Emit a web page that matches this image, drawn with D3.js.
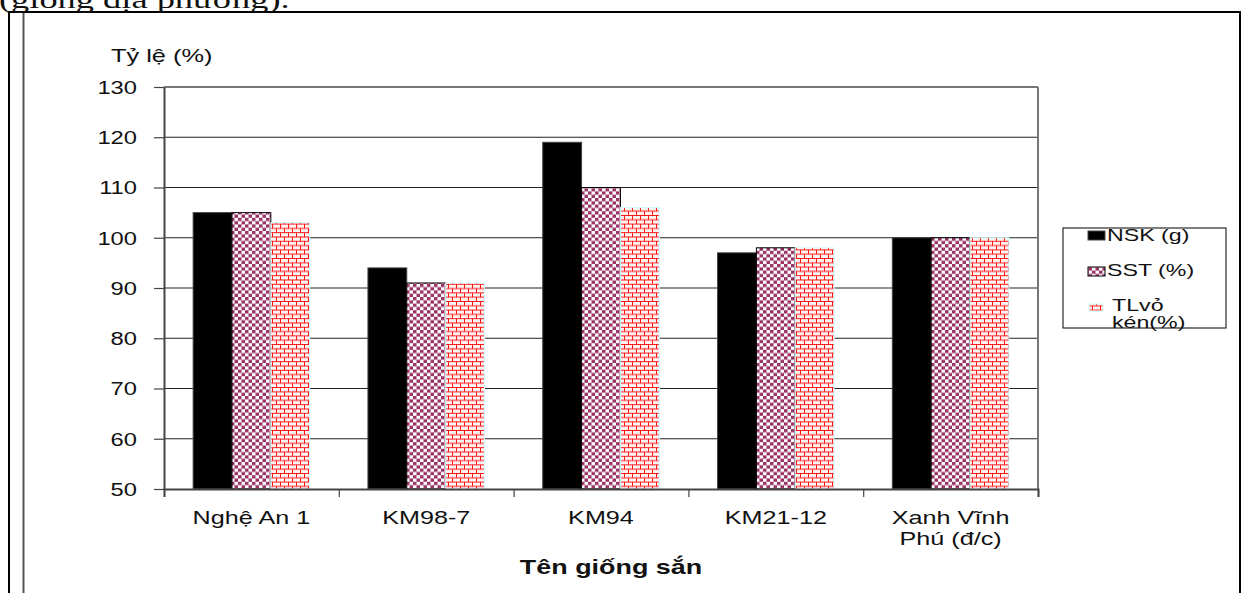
<!DOCTYPE html>
<html><head><meta charset="utf-8">
<script src="https://cdn.jsdelivr.net/npm/d3@7"></script>
<style>
body{margin:0;background:#fff}
svg{display:block}
text{font-family:"Liberation Sans",Arial,sans-serif;fill:#111}
</style>
</head><body>
<svg id="c" width="1244" height="593"></svg>
<script>
const categories = ["Nghệ An 1","KM98-7","KM94","KM21-12","Xanh Vĩnh Phú (đ/c)"];
const categoryLines = [["Nghệ An 1"],["KM98-7"],["KM94"],["KM21-12"],["Xanh Vĩnh","Phú (đ/c)"]];
const seriesNames = ["NSK (g)","SST (%)","TLvỏ kén(%)"];
const nsk = [105,94,119,97,100];
const sst = [105,91,110,98,100];
const tlv = [103,91,106,98,100];
const yTicks = [50,60,70,80,90,100,110,120,130];
const yTitle = "Tỷ lệ (%)";
const xTitle = "Tên giống sắn";
const headerText = "(giống địa phương).";

const seriesValues = [nsk, sst, tlv];
const svg = d3.select("#c");
const SX = 1.4;

// patterns
const defs = svg.append("defs");
const chk = defs.append("pattern").attr("id","chk").attr("patternUnits","userSpaceOnUse")
  .attr("width",7).attr("height",6.6);
chk.append("rect").attr("width",7).attr("height",6.6).attr("fill","#fff");
chk.append("rect").attr("width",3.5).attr("height",3.3).attr("fill","#993366");
chk.append("rect").attr("x",3.5).attr("y",3.3).attr("width",3.5).attr("height",3.3).attr("fill","#993366");
const brk = defs.append("pattern").attr("id","brk").attr("patternUnits","userSpaceOnUse")
  .attr("width",8).attr("height",8.6);
brk.append("rect").attr("width",8).attr("height",8.6).attr("fill","#fff4f4");
brk.append("path").attr("d","M0,0.5H8M0,4.8H8M0.5,0.5V4.8M4.5,4.8V8.6")
  .attr("stroke","#ff1010").attr("stroke-width",1).attr("fill","none");

const fills = ["#000","url(#chk)","url(#brk)"];
const strokes = ["#444","#000","#ccffff"];

// frame lines
svg.append("line").attr("x1",8).attr("x2",1241).attr("y1",12).attr("y2",12).attr("stroke","#000").attr("stroke-width",2);
svg.append("line").attr("x1",9).attr("x2",9).attr("y1",11).attr("y2",593).attr("stroke","#000").attr("stroke-width",2);
svg.append("line").attr("x1",1240).attr("x2",1240).attr("y1",11).attr("y2",593).attr("stroke","#000").attr("stroke-width",2);
svg.append("line").attr("x1",23.5).attr("x2",23.5).attr("y1",13).attr("y2",593).attr("stroke","#555").attr("stroke-width",2);

// header text (cut off)
svg.append("text").attr("transform",`translate(-1,8) scale(${SX},1)`)
  .style("font-family","'Liberation Serif','Times New Roman',serif").style("font-size","26px")
  .text(headerText);

const L=164, R=1038, T=87, B=489;
const x0 = d3.scaleBand().domain(categories).range([L,R]).padding(0);
const x1 = d3.scaleBand().domain(seriesNames).range([0,x0.bandwidth()]).paddingInner(0).paddingOuter(0.75);
const y = d3.scaleLinear().domain([50,130]).range([B,T]);

// gridlines
svg.append("g").selectAll("line").data(yTicks.filter(v=>v>50&&v<130)).join("line")
  .attr("x1",L).attr("x2",R).attr("y1",d=>y(d)).attr("y2",d=>y(d))
  .attr("stroke","#222").attr("stroke-width",1.2);

// bars
const g = svg.append("g");
categories.forEach((c,i)=>{
  seriesNames.forEach((s,j)=>{
    const v = seriesValues[j][i];
    g.append("rect").attr("x",x0(c)+x1(s)).attr("y",y(v))
      .attr("width",x1.bandwidth()).attr("height",y(50)-y(v))
      .attr("fill",fills[j]).attr("stroke",strokes[j]).attr("stroke-width",1);
  });
});

// plot border top/right
svg.append("line").attr("x1",L).attr("x2",R).attr("y1",T).attr("y2",T).attr("stroke","#777").attr("stroke-width",2);
svg.append("line").attr("x1",R).attr("x2",R).attr("y1",T).attr("y2",B).attr("stroke","#777").attr("stroke-width",2);

// y axis
const ya = svg.append("g").attr("transform",`translate(${L},0)`)
  .call(d3.axisLeft(y).tickValues(yTicks).tickSize(10).tickSizeOuter(0));
ya.select(".domain").attr("stroke","#444").attr("stroke-width",2);
ya.selectAll(".tick line").attr("stroke","#444").attr("stroke-width",1.2);
ya.selectAll(".tick text").attr("x",-27/1.32).attr("dy","0.35em")
  .attr("transform","scale(1.32,1)").style("font-size","18px").attr("fill","#111")
  .style("font-family","'Liberation Sans',Arial,sans-serif");

// x axis
const xa = svg.append("g").attr("transform",`translate(0,${B})`)
  .call(d3.axisBottom(d3.scaleLinear().domain([0,5]).range([L,R])).tickValues([0,1,2,3,4,5]).tickSize(8).tickFormat(""));
xa.select(".domain").attr("stroke","#444").attr("stroke-width",2);
xa.selectAll(".tick line").attr("stroke","#444").attr("stroke-width",1.2);

// category labels
categories.forEach((c,i)=>{
  const cx = x0(c)+x0.bandwidth()/2;
  categoryLines[i].forEach((ln,k)=>{
    svg.append("text").attr("transform",`translate(${cx},${524+k*21}) scale(${SX},1)`)
      .attr("text-anchor","middle").style("font-size","18px").text(ln);
  });
});

// titles
svg.append("text").attr("transform",`translate(111,62) scale(1.45,1)`).style("font-size","17.5px").text(yTitle);
svg.append("text").attr("transform",`translate(611,574) scale(1.38,1)`).attr("text-anchor","middle")
  .style("font-size","19.5px").style("font-weight","bold").text(xTitle);

// legend
const lg = svg.append("g");
lg.append("rect").attr("x",1063).attr("y",228).attr("width",163).attr("height",100).attr("fill","#fff").attr("stroke","#000").attr("stroke-width",1);
const keys = [{x:1088,y:231,w:17,h:9},{x:1088,y:267,w:17,h:9},{x:1089,y:304,w:14,h:7}];
keys.forEach((k,j)=>{
  lg.append("rect").attr("x",k.x).attr("y",k.y).attr("width",k.w).attr("height",k.h)
    .attr("fill",fills[j]).attr("stroke",strokes[j]).attr("stroke-width",1);
});
const legLines = [[{t:"NSK (g)",x:1107,y:241}],[{t:"SST (%)",x:1107,y:276}],[{t:"TLvỏ",x:1112,y:311},{t:"kén(%)",x:1112,y:328}]];
legLines.forEach(arr=>arr.forEach(o=>{
  lg.append("text").attr("transform",`translate(${o.x},${o.y}) scale(1.45,1)`).style("font-size","16px").text(o.t);
}));
</script>
</body></html>
